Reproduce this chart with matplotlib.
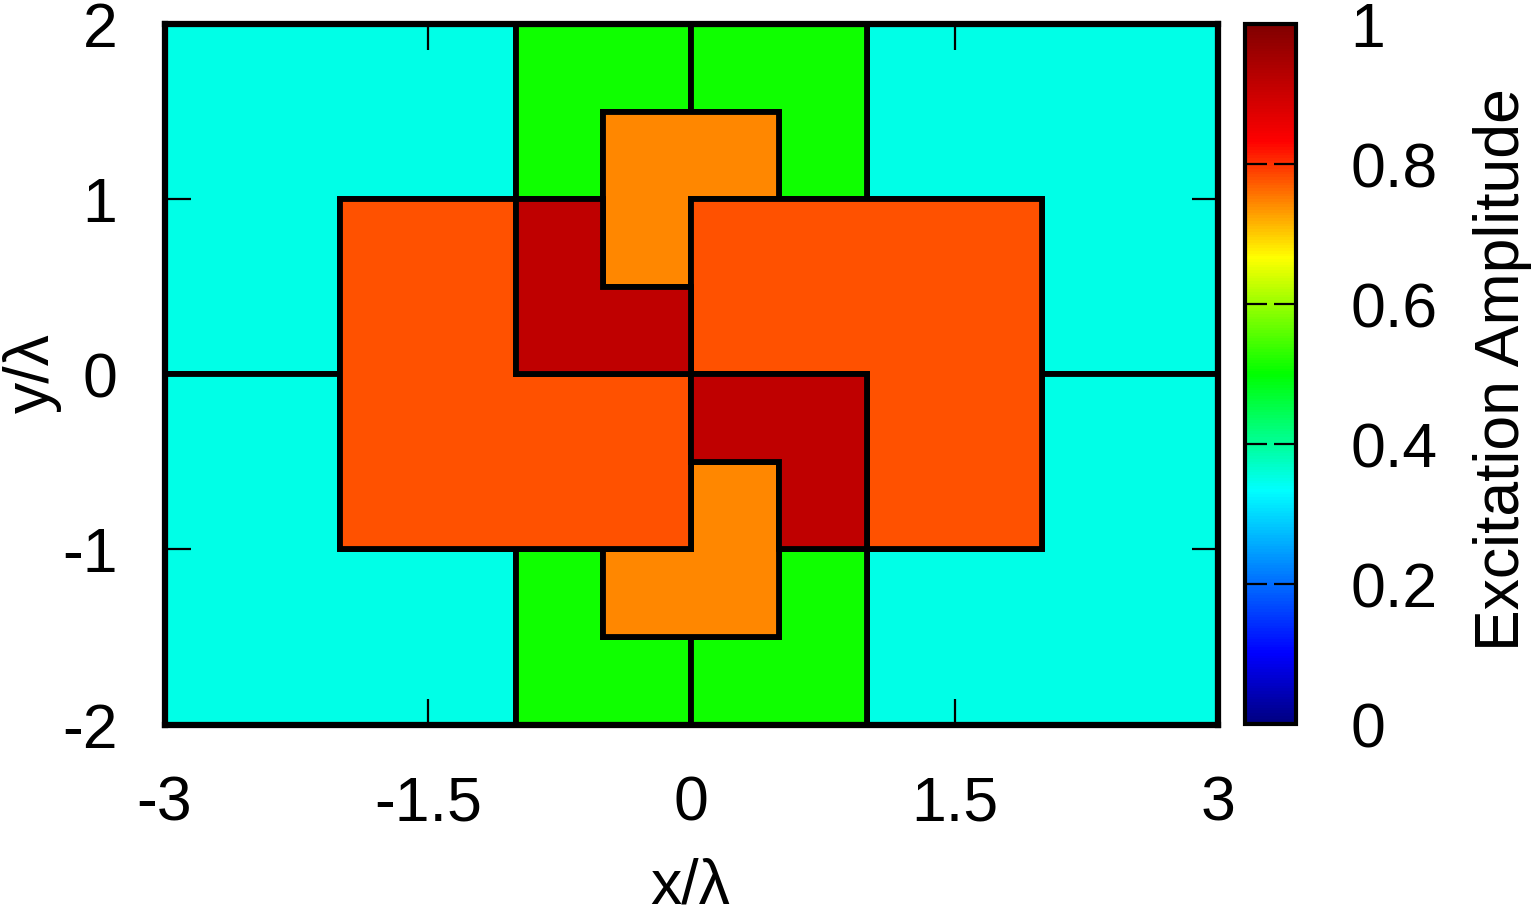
import matplotlib
matplotlib.use('Agg')
import matplotlib.pyplot as plt
from matplotlib.collections import PolyCollection
from matplotlib.colors import LinearSegmentedColormap, Normalize
from matplotlib.cm import ScalarMappable

plt.rcParams['font.family'] = ['Liberation Sans', 'DejaVu Sans']
plt.rcParams['axes.unicode_minus'] = False

# ---- data: tile outlines (x/lambda, y/lambda) and excitation amplitudes ----
tile_outlines = [
    # outer tiles
    [(-3, 2), (-1, 2), (-1, 1), (-2, 1), (-2, 0), (-3, 0)],
    [(-3, 0), (-2, 0), (-2, -1), (-1, -1), (-1, -2), (-3, -2)],
    [(1, 2), (3, 2), (3, 0), (2, 0), (2, 1), (1, 1)],
    [(3, 0), (3, -2), (1, -2), (1, -1), (2, -1), (2, 0)],
    # central column tiles
    [(-1, 2), (0, 2), (0, 1.5), (-0.5, 1.5), (-0.5, 1), (-1, 1)],
    [(0, 2), (1, 2), (1, 1), (0.5, 1), (0.5, 1.5), (0, 1.5)],
    [(-1, -1), (-0.5, -1), (-0.5, -1.5), (0, -1.5), (0, -2), (-1, -2)],
    [(0, -1.5), (0.5, -1.5), (0.5, -1), (1, -1), (1, -2), (0, -2)],
    # L tiles (top/bottom)
    [(-0.5, 1.5), (0.5, 1.5), (0.5, 1), (0, 1), (0, 0.5), (-0.5, 0.5)],
    [(0, -0.5), (0.5, -0.5), (0.5, -1.5), (-0.5, -1.5), (-0.5, -1), (0, -1)],
    # large L tiles
    [(-2, 1), (-1, 1), (-1, 0), (0, 0), (0, -1), (-2, -1)],
    [(0, 1), (2, 1), (2, -1), (1, -1), (1, 0), (0, 0)],
    # inner L tiles
    [(-1, 1), (-0.5, 1), (-0.5, 0.5), (0, 0.5), (0, 0), (-1, 0)],
    [(0, 0), (1, 0), (1, -1), (0.5, -1), (0.5, -0.5), (0, -0.5)],
]
tile_values = [0.35, 0.35, 0.35, 0.35,
               0.51, 0.51, 0.51, 0.51,
               0.745, 0.745,
               0.778, 0.778,
               0.916, 0.916]

x_ticks = [-3, -1.5, 0, 1.5, 3]
y_ticks = [-2, -1, 0, 1, 2]
cbar_ticks = [0, 0.2, 0.4, 0.6, 0.8, 1]

palette_positions = [0.0, 0.1, 0.333, 0.5, 0.667, 0.833, 1.0]
palette_colors = ['#000080', '#0000ff', '#00ffff', '#00ff00', '#ffff00', '#ff0000', '#800000']

x_label = 'x/λ'
y_label = 'y/λ'
cbar_label = 'Excitation Amplitude'

# ---- figure ----
W, H = 1532, 918
FS = 45
fig = plt.figure(figsize=(W / 100, H / 100), dpi=100)
ax = fig.add_axes([164.5 / W, 1 - 724.5 / H, 1053.5 / W, 700.5 / H])

cmap = LinearSegmentedColormap.from_list('pal', list(zip(palette_positions, palette_colors)))
norm = Normalize(0, 1)

pc = PolyCollection(tile_outlines, array=tile_values, cmap=cmap, norm=norm,
                    edgecolors='black', linewidths=4.2, joinstyle='miter')
ax.add_collection(pc)
ax.set_xlim(-3, 3)
ax.set_ylim(-2, 2)
ax.set_xticks(x_ticks)
ax.set_xticklabels([f'{v:g}' for v in x_ticks])
ax.set_yticks(y_ticks)
ax.set_yticklabels([f'{v:g}' for v in y_ticks])
ax.tick_params(direction='in', length=19, width=1.6, top=True, right=True,
               labelsize=FS, color='black')
ax.tick_params(axis='x', pad=36)
ax.tick_params(axis='y', pad=34)
for s in ax.spines.values():
    s.set_linewidth(4.5)
    s.set_zorder(5)

cax = fig.add_axes([1244.5 / W, 1 - 724 / H, 51.5 / W, 700 / H])
cb = fig.colorbar(ScalarMappable(norm=norm, cmap=cmap), cax=cax, ticks=cbar_ticks)
cb.ax.set_yticklabels([f'{v:g}' for v in cbar_ticks])
cb.outline.set_linewidth(3)
cax.tick_params(direction='in', length=16, width=1.6, left=True, right=True,
                labelsize=FS, pad=39, color='black')

fig.text(690 / W, 1 - 904 / H, x_label, ha='center', va='baseline', fontsize=FS)
fig.text(32 / W, 1 - 373 / H, y_label, ha='center', va='center', rotation=90, fontsize=FS)
fig.text(1502 / W, 1 - 370 / H, cbar_label, ha='center', va='center', rotation=90, fontsize=FS)

fig.savefig('out.png', dpi=100)
